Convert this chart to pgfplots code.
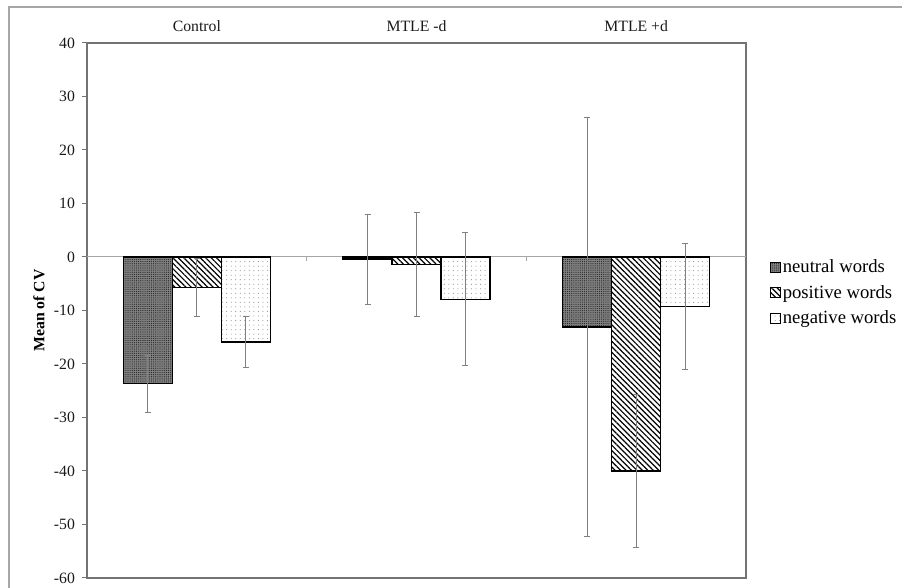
\documentclass[border=0pt]{standalone}
\usepackage{pgfplots}
\pgfplotsset{compat=1.18}
\usepackage{pgfplotstable}
\usepackage{fontspec}
\setmainfont{Liberation Serif}
\usetikzlibrary{patterns,patterns.meta}

\pgfplotstableread{
x y e
0 -23.7 5.3
1 -0.4 8.4
2 -13.1 39.2
}\neutral
\pgfplotstableread{
x y e
0 -5.7 5.5
1 -1.4 9.8
2 -40.0 14.3
}\positive
\pgfplotstableread{
x y e
0 -15.9 4.7
1 -7.9 12.4
2 -9.2 11.8
}\negative

\begin{document}
\begin{tikzpicture}
\path[use as bounding box] (-65.25pt,-7.5pt) rectangle (611.25pt,433.5pt);
\begin{axis}[
  at={(0,0)}, anchor=south west,
  scale only axis,
  width=494.25pt, height=401.25pt,
  xmin=-0.5, xmax=2.5,
  ymin=-60, ymax=40,
  ytick={-60,-50,...,40},
  xtick={0,1,2},
  xticklabels={Control, MTLE -d, MTLE +d},
  xticklabel pos=upper,
  x tick style={draw=none},
  xticklabel style={anchor=base, inner sep=0pt, yshift=4.5pt},
  y tick style={black!55, line width=0.75pt},
  tick align=outside,
  major tick length=4pt,
  yticklabel style={xshift=-1.5pt},
  ytick pos=left,
  axis line style={black!55, line width=1pt},
  /pgf/number format/assume math mode=true,
  ticklabel style={font=\fontsize{11.8}{13}\selectfont, text=black!90},
  ylabel={Mean of CV},
  every axis y label/.style={at={(axis description cs:-0.0728,0.5)}, anchor=center, rotate=90, font=\fontsize{11.8}{13}\selectfont\bfseries},
  extra y ticks={0},
  extra y tick labels={},
  extra y tick style={grid=major, major grid style={black!35, line width=0.75pt}, major tick length=0pt},
  ybar,
  bar width=0.223,
  legend style={draw=none, fill=none, at={(1.036,0.533)}, anchor=west,
    font=\fontsize{14}{16.5}\selectfont, row sep=5pt, inner sep=0pt,
    nodes={inner sep=1.5pt}},
  legend cell align=left,
  legend image code/.code={\draw[#1, line width=0.6pt] (0pt,-3.75pt) rectangle (7.5pt,3.75pt);},
  error bars/y dir=both,
  error bars/y explicit,
  error bars/error bar style={black!50, line width=0.75pt},
  error bars/error mark options={rotate=90, mark size=2.25pt, black!50, line width=0.75pt},
]
\addplot[bar shift=-0.223, draw=black, line width=1pt, fill=black!50,
  postaction={pattern={Dots[distance=1.6pt, radius=0.45pt]}, pattern color=black!85}]
  table[x=x, y=y, y error=e]{\neutral};
\addlegendentry{neutral words}
\addplot[bar shift=0, draw=black, line width=1pt, fill=white,
  postaction={pattern={Lines[angle=-45, distance=2.9pt, line width=0.9pt]}, pattern color=black}]
  table[x=x, y=y, y error=e]{\positive};
\addlegendentry{positive words}
\addplot[bar shift=0.223, draw=black, line width=1pt, fill=white,
  postaction={pattern={Dots[distance=3.4pt, radius=0.4pt]}, pattern color=black!45}]
  table[x=x, y=y, y error=e]{\negative};
\addlegendentry{negative words}
\draw[black!35, line width=0.75pt] (axis cs:0.5,0) -- ++(0pt,-3pt);
\draw[black!35, line width=0.75pt] (axis cs:1.5,0) -- ++(0pt,-3pt);
\end{axis}
\draw[black!35, line width=1.1pt] (-58.5pt,-7.5pt) -- (-58.5pt,428.25pt) -- (611.25pt,428.25pt);
\end{tikzpicture}
\end{document}
